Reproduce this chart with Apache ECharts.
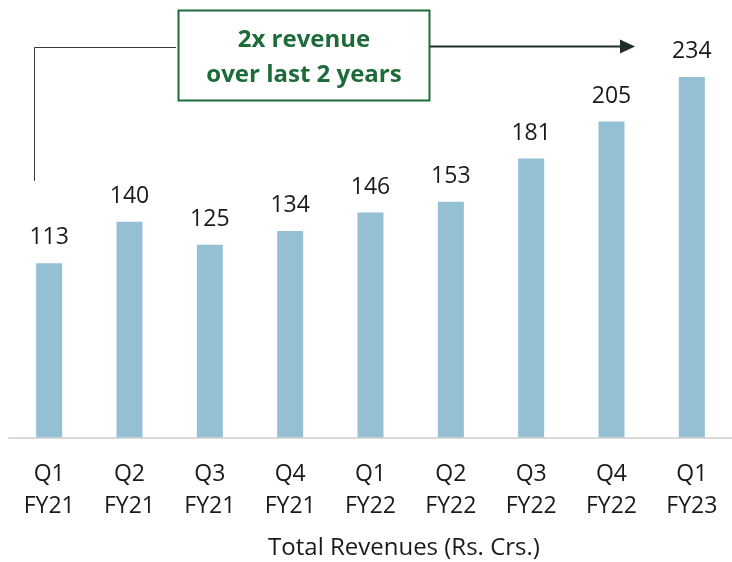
<!DOCTYPE html>
<html>
<head>
<meta charset="utf-8">
<script src="https://cdn.jsdelivr.net/npm/echarts@6/dist/echarts.min.js"></script>
<style>
  html, body { margin: 0; padding: 0; background: #fff; }
  #chart { width: 732px; height: 562px; }
</style>
</head>
<body>
<div id="chart"></div>
<script>
// quarters and revenue (Rs. Crs.)
const quarters = ['Q1', 'Q2', 'Q3', 'Q4', 'Q1', 'Q2', 'Q3', 'Q4', 'Q1']
const fiscalYears = ['FY21', 'FY21', 'FY21', 'FY21', 'FY22', 'FY22', 'FY22', 'FY22', 'FY23']
const revenue = [113, 140, 125, 134, 146, 153, 181, 205, 234]

const categories = quarters.map((q, i) => q + '\n' + fiscalYears[i])
const font = 'Open Sans'

const chart = echarts.init(document.getElementById('chart'))
chart.setOption({
  animation: false,
  textStyle: { fontFamily: font },
  grid: { left: 9, width: 729, top: 52.3, height: 385 },
  xAxis: {
    type: 'category',
    data: categories,
    axisLine: { lineStyle: { color: '#d9d9d9', width: 2 } },
    axisTick: { show: false },
    axisLabel: {
      margin: 21,
      fontFamily: font,
      fontSize: 23,
      lineHeight: 32,
      color: '#1a1a1a',
      interval: 0
    }
  },
  yAxis: {
    type: 'value',
    min: 0,
    max: 250,
    show: false
  },
  series: [{
    type: 'bar',
    data: revenue,
    barWidth: 26,
    itemStyle: { color: '#95bfd3' },
    label: {
      show: true,
      position: 'top',
      distance: 14,
      fontFamily: font,
      fontSize: 23,
      color: '#1a1a1a'
    }
  }],
  graphic: [
    // axis title
    {
      type: 'text',
      x: 404,
      y: 548,
      style: {
        text: 'Total Revenues (Rs. Crs.)',
        fontFamily: font,
        fontSize: 24,
        fill: '#1a1a1a',
        align: 'center',
        verticalAlign: 'middle'
      }
    },
    // connector from first bar to the callout box
    {
      type: 'polyline',
      shape: { points: [[34.5, 181], [34.5, 47.5], [176, 47.5]] },
      style: { stroke: '#3a3a3a', lineWidth: 1, fill: null }
    },
    {
      type: 'rect',
      shape: { x: 178.5, y: 10.5, width: 251, height: 90 },
      style: { stroke: '#1e6e3c', lineWidth: 2, fill: '#fff' }
    },
    {
      type: 'text',
      x: 304,
      y: 58,
      style: {
        text: '2x revenue\nover last 2 years',
        fontFamily: font,
        fontSize: 24,
        fontWeight: 'bold',
        lineHeight: 35,
        fill: '#1d6b39',
        align: 'center',
        verticalAlign: 'middle'
      }
    },
    // arrow towards the last quarter
    {
      type: 'line',
      shape: { x1: 430, y1: 46.5, x2: 622, y2: 46.5 },
      style: { stroke: '#1f2f27', lineWidth: 2 }
    },
    {
      type: 'polygon',
      shape: { points: [[620, 39.5], [635, 46.5], [620, 53.5]] },
      style: { fill: '#1f2f27' }
    }
  ]
})
</script>
</body>
</html>
